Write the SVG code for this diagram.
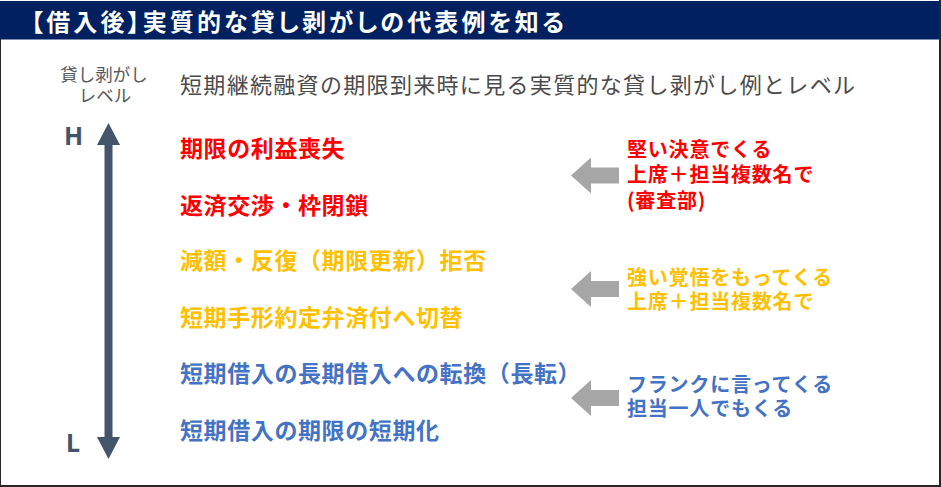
<svg xmlns="http://www.w3.org/2000/svg" width="941" height="487" viewBox="0 0 941 487">
<defs>
<style>
.jp{font-family:"Noto Sans CJK JP","Noto Sans",sans-serif}
.title{font-size:24px;font-weight:700;fill:#ffffff;font-feature-settings:"palt"}
.sub{font-size:22px;font-weight:400;fill:#4a4a4a}
.lab{font-size:17.5px;font-weight:400;fill:#595959}
.hl{font-family:"Noto Sans","Liberation Sans",sans-serif;font-size:25px;font-weight:700;fill:#44546a}
.item{font-size:23px;font-weight:700;letter-spacing:0.6px}
.note{font-size:20px;font-weight:700;letter-spacing:0.8px}
.red{fill:#ff0000}
.org{fill:#ffc000}
.blu{fill:#4472c4}
.garrow{fill:#a6a6a6}
</style>
<marker id="tri" viewBox="0 0 22 23" markerWidth="22" markerHeight="23" refX="1" refY="11.5" orient="auto-start-reverse" markerUnits="userSpaceOnUse">
<path d="M0,0 L22,11.5 L0,23 Z" fill="#44546a"/>
</marker>
</defs>
<rect x="0" y="0" width="941" height="487" fill="#ffffff"/>
<g id="header">
<rect x="0" y="1" width="941" height="38.5" fill="#002060"/>
<text class="jp title" x="31" y="31" textLength="533" lengthAdjust="spacing">【借入後】実質的な貸し剥がしの代表例を知る</text>
</g>
<g id="frame" fill="#262626">
<rect x="0" y="39" width="1" height="448"/>
<rect x="939" y="0" width="2" height="487"/>
<rect x="0" y="485" width="941" height="2"/>
</g>
<g id="subtitle">
<text class="jp sub" x="180" y="92.5" textLength="675" lengthAdjust="spacing">短期継続融資の期限到来時に見る実質的な貸し剥がし例とレベル</text>
</g>
<g id="axis-label">
<text class="jp lab" x="104" y="80.5" text-anchor="middle">貸し剥がし</text>
<text class="jp lab" x="105" y="102" text-anchor="middle">レベル</text>
</g>
<g id="level-H"><text class="hl" x="64" y="145">H</text></g>
<g id="level-L"><text class="hl" x="66" y="452">L</text></g>
<g id="connectors">
<line x1="108.5" y1="144" x2="108.5" y2="438" stroke="#44546a" stroke-width="8" marker-start="url(#tri)" marker-end="url(#tri)"/>
<path class="garrow" d="M571,175.5 L591,157.5 L591,167.5 L619,167.5 L619,183.5 L591,183.5 L591,193.5 Z"/>
<path class="garrow" d="M571,289 L591,271 L591,281 L619,281 L619,297 L591,297 L591,307 Z"/>
<path class="garrow" d="M571,398 L591,380 L591,390 L619,390 L619,406 L591,406 L591,416 Z"/>
</g>
<g id="item-1"><text class="jp item red" x="180" y="156.5">期限の利益喪失</text></g>
<g id="item-2"><text class="jp item red" x="180" y="213.5">返済交渉・枠閉鎖</text></g>
<g id="item-3"><text class="jp item org" x="180" y="268.5">減額・反復（期限更新）拒否</text></g>
<g id="item-4"><text class="jp item org" x="180" y="325.5">短期手形約定弁済付へ切替</text></g>
<g id="item-5"><text class="jp item blu" x="180" y="381.5">短期借入の長期借入への転換（長転）</text></g>
<g id="item-6"><text class="jp item blu" x="180" y="438.5">短期借入の期限の短期化</text></g>
<g id="note-red">
<text class="jp note red" x="627" y="156.5">堅い決意でくる</text>
<text class="jp note red" x="627" y="181.5">上席＋担当複数名で</text>
<text class="jp note red" x="627" y="207.5">(審査部)</text>
</g>
<g id="note-orange">
<text class="jp note org" x="627" y="284.5">強い覚悟をもってくる</text>
<text class="jp note org" x="627" y="308.5">上席＋担当複数名で</text>
</g>
<g id="note-blue">
<text class="jp note blu" x="627" y="391.5">フランクに言ってくる</text>
<text class="jp note blu" x="627" y="416">担当一人でもくる</text>
</g>
</svg>
